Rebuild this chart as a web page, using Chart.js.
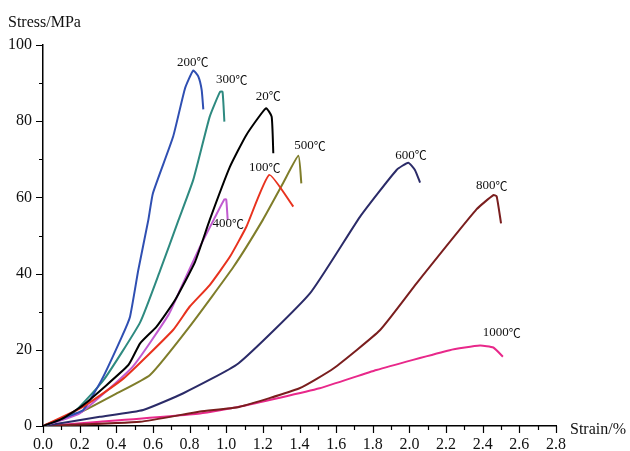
<!DOCTYPE html>
<html>
<head>
<meta charset="utf-8">
<script src="https://cdn.jsdelivr.net/npm/chart.js@4.4.1/dist/chart.umd.min.js"></script>
<style>
  html, body { margin: 0; padding: 0; background: #fff; }
  #wrap { width: 630px; height: 451px; }
</style>
</head>
<body>
<div id="wrap"><canvas id="myChart" width="630" height="451"></canvas></div>
<script>
// temperature labels, colours and label anchor (data coords)
const temps = ['20℃', '100℃', '200℃', '300℃', '400℃', '500℃', '600℃', '800℃', '1000℃'];
const colors = ['#000000', '#e8321e', '#2f4fb2', '#2e8a80', '#c15ad0', '#7f7d2a', '#2b2b68', '#7a1e1e', '#e8288a'];
const labelX = [1.23, 1.21, 0.817, 1.03, 1.011, 1.457, 2.009, 2.45, 2.504];
const labelY = [86.4, 67.7, 95.4, 90.8, 53.0, 73.5, 70.9, 63.0, 24.4];

// strain (%) values per curve
const strain20 = [0, 0.1, 0.22, 0.466, 0.53, 0.62, 0.72, 0.83, 0.91, 1.02, 1.11, 1.217, 1.248, 1.257];
const strain100 = [0, 0.22, 0.44, 0.71, 0.80, 0.91, 1.02, 1.11, 1.235, 1.366];
const strain200 = [0, 0.13, 0.22, 0.32, 0.43, 0.475, 0.52, 0.575, 0.60, 0.71, 0.775, 0.82, 0.848, 0.866, 0.875];
const strain300 = [0, 0.1, 0.17, 0.33, 0.53, 0.64, 0.74, 0.82, 0.91, 0.966, 0.98, 0.99];
const strain400 = [0, 0.2, 0.49, 0.684, 0.748, 0.857, 0.94, 0.99, 1.0, 1.008];
const strain500 = [0, 0.2, 0.4, 0.584, 0.80, 1.04, 1.2, 1.31, 1.394, 1.41];
const strain600 = [0, 0.31, 0.547, 0.766, 1.066, 1.457, 1.73, 1.93, 1.994, 2.03, 2.058];
const strain800 = [0, 0.53, 0.857, 1.07, 1.40, 1.585, 1.84, 2.04, 2.367, 2.458, 2.476, 2.50];
const strain1000 = [0, 0.31, 0.857, 1.075, 1.51, 1.82, 2.22, 2.385, 2.458, 2.51];

// stress (MPa) values per curve
const stress20 = [0, 1.8, 5.5, 16, 21.7, 26.1, 33, 43.1, 54.1, 68, 76.4, 83.4, 81.2, 71.6];
const stress100 = [0, 5.1, 12.5, 25.2, 31.3, 37, 44.4, 52.3, 65.9, 57.6];
const stress200 = [0, 2.4, 4.2, 12.1, 23.4, 28.7, 40.9, 54.1, 61.1, 75.9, 88.6, 93.3, 91.7, 88.2, 83.1];
const stress300 = [0, 2.0, 3.6, 12.0, 27.2, 40.9, 54.1, 64.6, 81.2, 87.7, 87.7, 79.9];
const stress400 = [0, 3.3, 15.6, 29.1, 35.7, 47.1, 54.9, 59.5, 59.5, 54.1];
const stress500 = [0, 3.5, 8.5, 13.4, 26.1, 41.8, 54.1, 63.7, 70.9, 63.7];
const stress600 = [0, 2.4, 4.2, 8.6, 16.4, 34.8, 54.9, 67.2, 69.1, 67.2, 63.9];
const stress800 = [0, 1.1, 3.8, 5.0, 9.9, 15.1, 25.2, 37.5, 56.9, 60.6, 60.3, 53.2];
const stress1000 = [0, 1.1, 3.3, 5.1, 9.9, 14.7, 19.9, 21.1, 20.6, 18.2];

const strains = [strain20, strain100, strain200, strain300, strain400, strain500, strain600, strain800, strain1000];
const stresses = [stress20, stress100, stress200, stress300, stress400, stress500, stress600, stress800, stress1000];

const serif = '"Liberation Serif", "Times New Roman", serif';
const cjk = '"Noto Sans CJK SC", "Noto Sans CJK JP", sans-serif';

// draws axis tick marks (long on labelled ticks), axis names and curve labels
const extras = {
    id: 'extras',
    afterDraw(chart) {
        const c = chart.ctx;
        const xs = chart.scales.x, ys = chart.scales.y;
        const area = chart.chartArea;
        c.save();
        c.strokeStyle = '#000';
        c.lineWidth = 1.2;
        c.beginPath();
        xs.ticks.forEach((t, i) => {
            const px = Math.round(xs.getPixelForValue(t.value)) + 0.5;
            const len = i % 2 === 0 ? 7 : 4;
            c.moveTo(px, area.bottom);
            c.lineTo(px, area.bottom + len);
        });
        ys.ticks.forEach((t, i) => {
            const py = Math.round(ys.getPixelForValue(t.value)) + 0.5;
            const len = i % 2 === 0 ? 7 : 4;
            c.moveTo(area.left, py);
            c.lineTo(area.left - len, py);
        });
        c.stroke();

        c.fillStyle = '#111';
        c.font = '16px ' + serif;
        c.textBaseline = 'middle';
        c.textAlign = 'left';
        c.fillText('Stress/MPa', 8, 23);
        c.fillText('Strain/%', 570, 430);

        // number in serif, degree sign in a full-width CJK face
        temps.forEach((t, i) => {
            const num = t.replace('℃', '');
            c.font = '13px ' + serif;
            const w1 = c.measureText(num).width;
            c.font = '12px ' + cjk;
            const w2 = c.measureText('℃').width;
            const x0 = xs.getPixelForValue(labelX[i]) - (w1 + w2) / 2;
            const y0 = ys.getPixelForValue(labelY[i]);
            c.font = '13px ' + serif;
            c.fillText(num, x0, y0);
            c.font = '12px ' + cjk;
            c.fillText('℃', x0 + w1, y0);
        });
        c.restore();
    }
};

const ctx = document.getElementById('myChart').getContext('2d');

new Chart(ctx, {
    type: 'scatter',
    data: {
        datasets: temps.map((t, i) => ({
            label: t,
            data: strains[i].map((x, j) => ({ x: x, y: stresses[i][j] })),
            showLine: true,
            borderColor: colors[i],
            backgroundColor: colors[i],
            borderWidth: 2,
            pointRadius: 0,
            tension: 0.15
        }))
    },
    options: {
        responsive: false,
        animation: false,
        layout: { padding: { top: 45, right: 74, left: 0, bottom: 0 } },
        plugins: {
            legend: { display: false },
            tooltip: { enabled: false }
        },
        scales: {
            x: {
                type: 'linear',
                min: 0,
                max: 2.8,
                afterFit: (s) => { s.height = 25; },
                grid: { display: false, drawTicks: false, tickLength: 0 },
                border: { display: true, color: '#000', width: 1.5 },
                ticks: {
                    stepSize: 0.1,
                    padding: 9,
                    color: '#111',
                    font: { family: serif, size: 16 },
                    maxRotation: 0,
                    autoSkip: false,
                    callback: (v) => (Math.round(v * 10) % 2 === 0 ? v.toFixed(1) : '')
                }
            },
            y: {
                min: 0,
                max: 100,
                afterFit: (s) => { s.width = 43; },
                grid: { display: false, drawTicks: false, tickLength: 0 },
                border: { display: true, color: '#000', width: 1.5 },
                ticks: {
                    stepSize: 10,
                    padding: 11,
                    color: '#111',
                    font: { family: serif, size: 16 },
                    autoSkip: false,
                    callback: (v) => (v % 20 === 0 ? v : '')
                }
            }
        }
    },
    plugins: [extras]
});
</script>
</body>
</html>
